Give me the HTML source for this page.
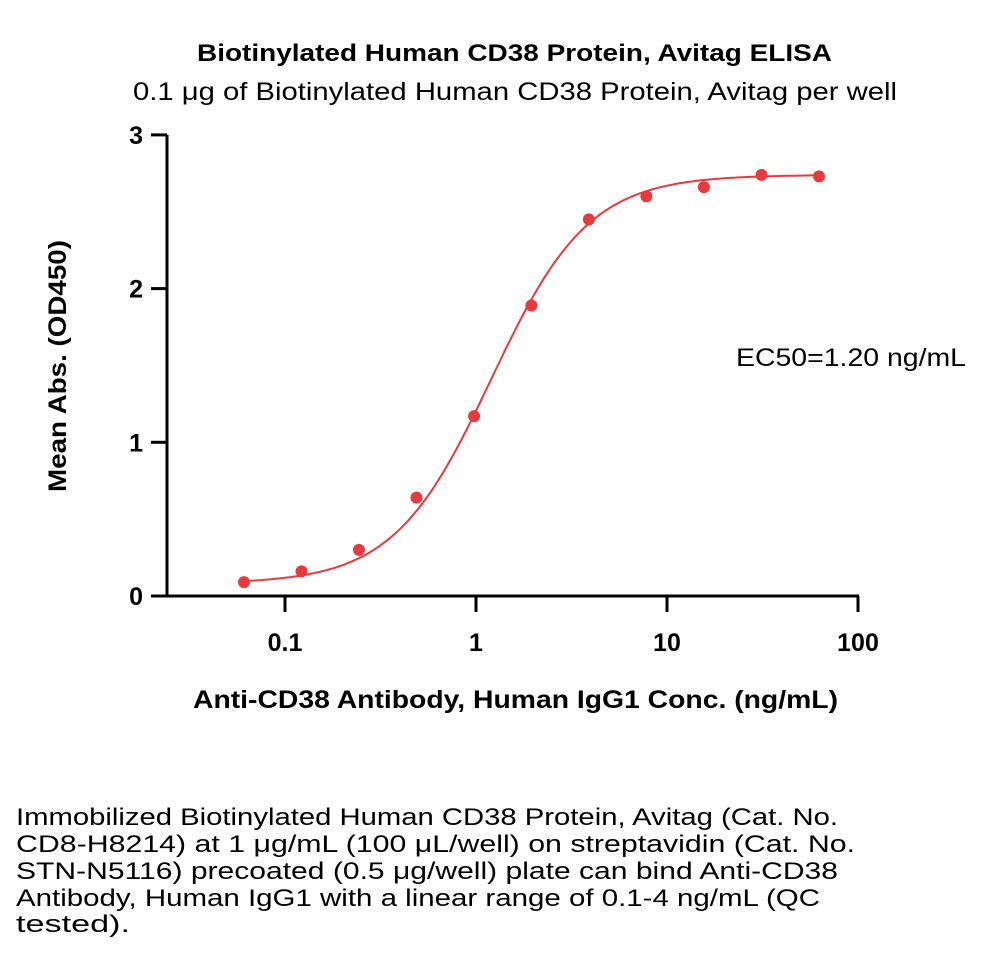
<!DOCTYPE html>
<html><head><meta charset="utf-8"><style>
body{margin:0;background:#fff;width:1000px;height:971px;overflow:hidden;font-family:"Liberation Sans",sans-serif}
svg{position:absolute;left:0;top:0}
</style></head><body>
<svg id="chart" width="1000" height="971" xmlns="http://www.w3.org/2000/svg" font-family="Liberation Sans">
<text x="197" y="61" textLength="635" lengthAdjust="spacingAndGlyphs" font-weight="bold" font-size="24">Biotinylated Human CD38 Protein, Avitag ELISA</text>
<text x="133" y="100" textLength="764" lengthAdjust="spacingAndGlyphs" font-size="25">0.1 μg of Biotinylated Human CD38 Protein, Avitag per well</text>
<g id="axes"></g><g id="marks"></g>
<text transform="translate(66,492) rotate(-90)" textLength="252" lengthAdjust="spacingAndGlyphs" font-weight="bold" font-size="25">Mean Abs. (OD450)</text>
<text x="193" y="708" textLength="645" lengthAdjust="spacingAndGlyphs" font-weight="bold" font-size="25">Anti-CD38 Antibody, Human IgG1 Conc. (ng/mL)</text>
<text x="736" y="366" textLength="230" lengthAdjust="spacingAndGlyphs" font-size="25">EC50=1.20 ng/mL</text>
<g font-size="24">
<text x="16" y="825" textLength="822" lengthAdjust="spacingAndGlyphs">Immobilized Biotinylated Human CD38 Protein, Avitag (Cat. No.</text>
<text x="16" y="852" textLength="839" lengthAdjust="spacingAndGlyphs">CD8-H8214) at 1 μg/mL (100 μL/well) on streptavidin (Cat. No.</text>
<text x="16" y="879" textLength="822" lengthAdjust="spacingAndGlyphs">STN-N5116) precoated (0.5 μg/well) plate can bind Anti-CD38</text>
<text x="16" y="906" textLength="804" lengthAdjust="spacingAndGlyphs">Antibody, Human IgG1 with a linear range of 0.1-4 ng/mL (QC</text>
<text x="16" y="932" textLength="114" lengthAdjust="spacingAndGlyphs">tested).</text>
</g>
</svg>
<script>
const concentrations=[0.061,0.122,0.244,0.488,0.977,1.95,3.9,7.8,15.6,31.25,62.5];
const absorbances=[0.09,0.16,0.30,0.64,1.17,1.89,2.45,2.60,2.66,2.74,2.73];
const fitParams=[0.08,2.74,1.20,1.7];
const yTicks=[0,1,2,3];
const xTicks=[0.1,1,10,100];
const xTickLabels=["0.1","1","10","100"];
const NS="http://www.w3.org/2000/svg";
function xs(v){return 476+191*Math.log10(v);}
function ys(v){return 596-153.7*v;}
function mk(t,a,p){const e=document.createElementNS(NS,t);for(const k in a)e.setAttribute(k,a[k]);p.appendChild(e);return e;}
const ax=document.getElementById('axes'),mg=document.getElementById('marks');
let l=mk('line',{x1:167,y1:ys(3),x2:167,y2:597,stroke:'#000','stroke-width':3},ax);


l=mk('line',{x1:166,y1:596,x2:xs(100)+1,y2:596,stroke:'#000','stroke-width':3},ax);


yTicks.forEach(v=>{const t=mk('line',{x1:151,y1:ys(v),x2:167,y2:ys(v),stroke:'#000','stroke-width':3},ax);


const tx=mk('text',{x:143,y:ys(v)+9,'text-anchor':'end','font-weight':'bold','font-size':25},ax);tx.textContent=v;

});
xTicks.forEach((v,i)=>{const t=mk('line',{x1:xs(v),y1:596,x2:xs(v),y2:612,stroke:'#000','stroke-width':3},ax);


const tx=mk('text',{x:xs(v),y:651,'text-anchor':'middle','font-weight':'bold','font-size':25},ax);tx.textContent=xTickLabels[i];

});
const [b,tp,ec,h]=fitParams;let d='';
const l0=Math.log10(concentrations[0]),l1=Math.log10(concentrations[concentrations.length-1]);
for(let i=0;i<=200;i++){const x=Math.pow(10,l0+i/200*(l1-l0));
const y=b+(tp-b)/(1+Math.pow(ec/x,h));d+=(i?'L':'M')+xs(x).toFixed(1)+' '+ys(y).toFixed(1);}
const c=mk('path',{d:d,fill:'none',stroke:'#e8393d','stroke-width':2},mg);


concentrations.forEach((v,i)=>{const p=mk('circle',{cx:xs(v),cy:ys(absorbances[i]),r:6,fill:'#e8393d'},mg);

});
</script>
</body></html>
